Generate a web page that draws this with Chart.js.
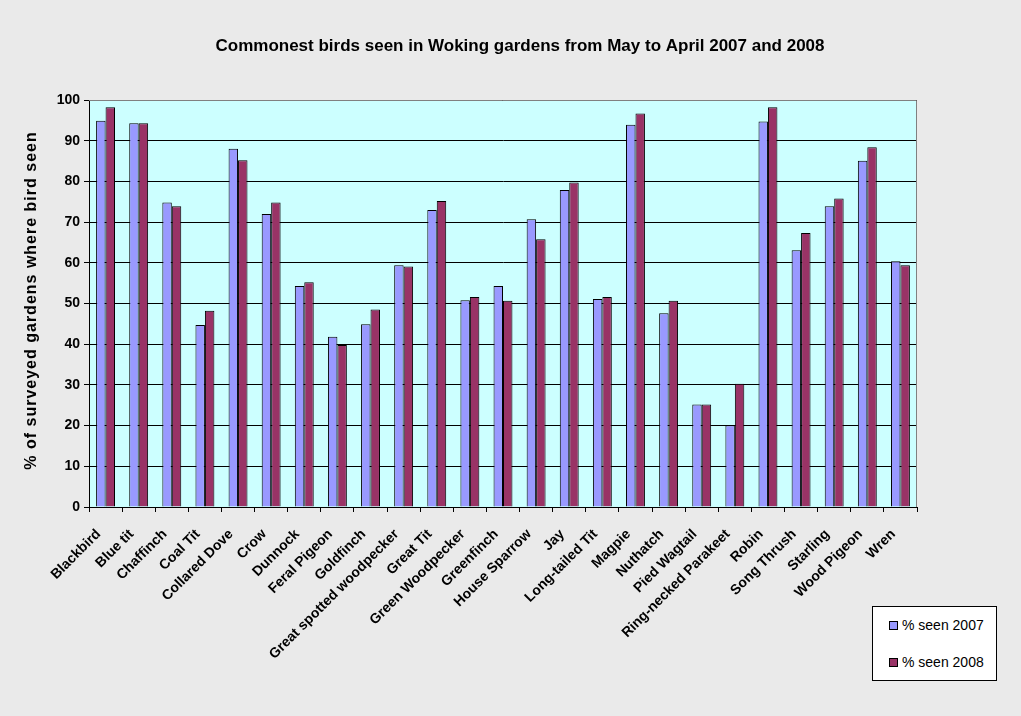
<!DOCTYPE html>
<html>
<head>
<meta charset="utf-8">
<script src="https://cdn.jsdelivr.net/npm/chart.js@4/dist/chart.umd.min.js"></script>
<style>
  html, body { margin: 0; padding: 0; }
  body {
    width: 1021px; height: 716px; overflow: hidden;
    background: #eaeaea;
    font-family: "Liberation Sans", Arial, sans-serif;
  }
  #wrap { position: relative; width: 1021px; height: 716px; }
  #legend {
    position: absolute; left: 872px; top: 606px;
    width: 123px; height: 73px;
    background: #fff; border: 1px solid #000;
    font-size: 14px; color: #000;
  }
  .leg-item { position: absolute; left: 16px; display: flex; align-items: center; }
  .leg-box { width: 7px; height: 7px; border: 1px solid #000; margin-right: 4px; }
</style>
</head>
<body>
<div id="wrap">
  <canvas id="chartBirds" width="1021" height="716"></canvas>
  <div id="legend"></div>
</div>
<script>
// Datos del gráfico
const birds = [
  "Blackbird", "Blue tit", "Chaffinch", "Coal Tit", "Collared Dove", "Crow",
  "Dunnock", "Feral Pigeon", "Goldfinch", "Great spotted woodpecker", "Great Tit",
  "Green Woodpecker", "Greenfinch", "House Sparrow", "Jay", "Long-tailed Tit",
  "Magpie", "Nuthatch", "Pied Wagtail", "Ring-necked Parakeet", "Robin",
  "Song Thrush", "Starling", "Wood Pigeon", "Wren"
];
const seen2007 = [94.9, 94.3, 74.8, 44.7, 88.0, 72.0, 54.3, 41.8, 44.9, 59.4, 73.0,
  50.8, 54.3, 70.7, 77.9, 51.1, 93.9, 47.6, 25.2, 20.1, 94.7, 63.1, 73.9, 85.1, 60.4];
const seen2008 = [98.2, 94.3, 73.9, 48.2, 85.2, 74.8, 55.2, 39.8, 48.5, 59.1, 75.2,
  51.6, 50.7, 65.8, 79.7, 51.6, 96.7, 50.7, 25.2, 30.3, 98.2, 67.3, 75.8, 88.4, 59.4];
const seriesLabels = ["% seen 2007", "% seen 2008"];
const seriesColors = ["#9999ff", "#993366"];

const chartTitle = "Commonest birds seen in Woking gardens from May to April 2007 and 2008";
const yTitle = "% of surveyed gardens where bird seen";

const FONT = "'Liberation Sans', Arial, sans-serif";

// Fondo del área de trazado, bordes grises y títulos
const plotArea = {
  id: "plotArea",
  beforeDraw(chart) {
    const { ctx, chartArea: a } = chart;
    ctx.save();
    ctx.fillStyle = "#ccffff";
    ctx.fillRect(a.left, a.top, a.right - a.left, a.bottom - a.top);
    ctx.restore();
  },
  afterDraw(chart) {
    const { ctx, chartArea: a } = chart;
    ctx.save();
    ctx.strokeStyle = "#808080";
    ctx.lineWidth = 1;
    ctx.beginPath();
    ctx.moveTo(a.left, a.top + 0.5);
    ctx.lineTo(a.right - 0.5, a.top + 0.5);
    ctx.lineTo(a.right - 0.5, a.bottom);
    ctx.stroke();

    // Título principal
    ctx.fillStyle = "#000";
    ctx.font = "bold 17px " + FONT;
    ctx.textAlign = "center";
    ctx.textBaseline = "middle";
    ctx.fillText(chartTitle, 520, 46);

    // Título del eje Y (girado)
    ctx.translate(32, (a.top + a.bottom) / 2 - 3);
    ctx.rotate(-Math.PI / 2);
    ctx.font = "bold 16px " + FONT;
    if ("letterSpacing" in ctx) ctx.letterSpacing = "1px";
    ctx.fillText(yTitle, 0, 0);
    ctx.restore();
  }
};

const ctx = document.getElementById("chartBirds").getContext("2d");
const chart = new Chart(ctx, {
  type: "bar",
  data: {
    labels: birds,
    datasets: [
      { label: seriesLabels[0], data: seen2007, backgroundColor: seriesColors[0] },
      { label: seriesLabels[1], data: seen2008, backgroundColor: seriesColors[1] }
    ]
  },
  plugins: [plotArea],
  options: {
    responsive: false,
    animation: false,
    layout: { padding: { left: 0, right: 104, top: 100, bottom: 0 } },
    datasets: {
      bar: {
        borderColor: "#000",
        borderWidth: 1,
        categoryPercentage: 0.571,
        barPercentage: 1
      }
    },
    plugins: {
      legend: { display: false },
      tooltip: { enabled: false },
      title: { display: false }
    },
    scales: {
      x: {
        grid: { display: true, drawOnChartArea: false, offset: true, tickLength: 5, color: "#000" },
        border: { color: "#000" },
        ticks: {
          color: "#000",
          minRotation: 45,
          maxRotation: 45,
          autoSkip: false,
          padding: 14,
          labelOffset: -7,
          font: { family: FONT, size: 14, weight: "bold" }
        },
        afterFit(scale) { scale.height = 209; }
      },
      y: {
        min: 0,
        max: 100,
        ticks: {
          stepSize: 10,
          color: "#000",
          padding: 4,
          font: { family: FONT, size: 14, weight: "bold" }
        },
        grid: { color: "#000", tickLength: 5 },
        border: { color: "#000" },
        afterFit(scale) { scale.width = 89; }
      }
    }
  }
});

// Leyenda en HTML (caja blanca abajo a la derecha)
const legendEl = document.getElementById("legend");
chart.data.datasets.forEach((ds, i) => {
  const item = document.createElement("div");
  item.className = "leg-item";
  item.style.top = (i === 0 ? 10 : 47) + "px";
  item.innerHTML = '<span class="leg-box" style="background:' + ds.backgroundColor + '"></span>' + ds.label;
  legendEl.appendChild(item);
});
</script>
</body>
</html>
